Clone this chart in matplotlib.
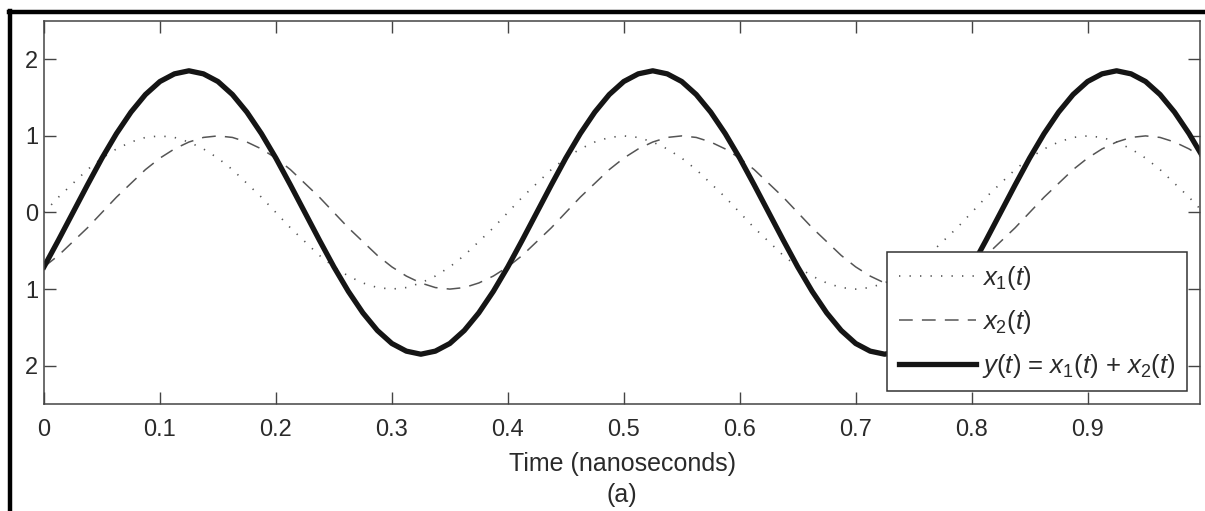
import numpy as np
import matplotlib
matplotlib.use("Agg")
import matplotlib.pyplot as plt
from matplotlib.lines import Line2D

plt.rcParams['font.family'] = ['Liberation Sans', 'DejaVu Sans']
plt.rcParams['mathtext.fontset'] = 'custom'
plt.rcParams['mathtext.rm'] = 'Liberation Sans'
plt.rcParams['mathtext.it'] = 'Liberation Sans:italic'

# sample times (ns), step 0.0125
time_ns = np.linspace(0.0, 1.0, 81)

x1_vals = [
    0.00, 0.20, 0.38, 0.56, 0.71, 0.83, 0.92, 0.98, 1.00, 0.98, 0.92, 0.83, 0.71, 0.56, 0.38, 0.20,
    0.00, -0.20, -0.38, -0.56, -0.71, -0.83, -0.92, -0.98, -1.00, -0.98, -0.92, -0.83, -0.71, -0.56, -0.38, -0.20,
    0.00, 0.20, 0.38, 0.56, 0.71, 0.83, 0.92, 0.98, 1.00, 0.98, 0.92, 0.83, 0.71, 0.56, 0.38, 0.20,
    0.00, -0.20, -0.38, -0.56, -0.71, -0.83, -0.92, -0.98, -1.00, -0.98, -0.92, -0.83, -0.71, -0.56, -0.38, -0.20,
    0.00, 0.20, 0.38, 0.56, 0.71, 0.83, 0.92, 0.98, 1.00, 0.98, 0.92, 0.83, 0.71, 0.56, 0.38, 0.20,
    0.00,
]

x2_vals = [
    -0.71, -0.56, -0.38, -0.20,
    0.00, 0.20, 0.38, 0.56, 0.71, 0.83, 0.92, 0.98, 1.00, 0.98, 0.92, 0.83, 0.71, 0.56, 0.38, 0.20,
    0.00, -0.20, -0.38, -0.56, -0.71, -0.83, -0.92, -0.98, -1.00, -0.98, -0.92, -0.83, -0.71, -0.56, -0.38, -0.20,
    0.00, 0.20, 0.38, 0.56, 0.71, 0.83, 0.92, 0.98, 1.00, 0.98, 0.92, 0.83, 0.71, 0.56, 0.38, 0.20,
    0.00, -0.20, -0.38, -0.56, -0.71, -0.83, -0.92, -0.98, -1.00, -0.98, -0.92, -0.83, -0.71, -0.56, -0.38, -0.20,
    0.00, 0.20, 0.38, 0.56, 0.71, 0.83, 0.92, 0.98, 1.00, 0.98, 0.92, 0.83, 0.71,
]

y_vals = [
    -0.71, -0.36,
    0.00, 0.36, 0.71, 1.03, 1.31, 1.54, 1.71, 1.81, 1.85, 1.81, 1.71, 1.54, 1.31, 1.03, 0.71, 0.36,
    0.00, -0.36, -0.71, -1.03, -1.31, -1.54, -1.71, -1.81, -1.85, -1.81, -1.71, -1.54, -1.31, -1.03, -0.71, -0.36,
    0.00, 0.36, 0.71, 1.03, 1.31, 1.54, 1.71, 1.81, 1.85, 1.81, 1.71, 1.54, 1.31, 1.03, 0.71, 0.36,
    0.00, -0.36, -0.71, -1.03, -1.31, -1.54, -1.71, -1.81, -1.85, -1.81, -1.71, -1.54, -1.31, -1.03, -0.71, -0.36,
    0.00, 0.36, 0.71, 1.03, 1.31, 1.54, 1.71, 1.81, 1.85, 1.81, 1.71, 1.54, 1.31, 1.03, 0.71,
]

xticks = [0, 0.1, 0.2, 0.3, 0.4, 0.5, 0.6, 0.7, 0.8, 0.9]
xtick_labels = ['0', '0.1', '0.2', '0.3', '0.4', '0.5', '0.6', '0.7', '0.8', '0.9']
yticks = [2, 1, 0, -1, -2]
ytick_labels = ['2', '1', '0', '1', '2']  # minus signs lost in the original scan

text_col = '#2a2a2a'

fig = plt.figure(figsize=(12.05, 5.11), dpi=100)
ax = fig.add_axes([0.0365, 0.2094, 0.9594, 0.7495])

ax.plot(time_ns, x1_vals, color='#555555', lw=1.2, ls=(0, (0.8, 5.5)), label='$x_1(t)$')
ax.plot(time_ns, x2_vals, color='#555555', lw=1.1, ls=(0, (9, 6)), label='$x_2(t)$')
ax.plot(time_ns, y_vals, color='#151515', lw=3.8, label='$y(t)$ = $x_1(t)$ + $x_2(t)$')

ax.set_xlim(0, 0.997)
ax.set_ylim(-2.5, 2.5)
ax.set_xticks(xticks)
ax.set_xticklabels(xtick_labels)
ax.set_yticks(yticks)
ax.set_yticklabels(ytick_labels)
ax.tick_params(direction='in', length=8.5, width=1, top=True, right=True,
               labelsize=17, colors='#444444', labelcolor=text_col)
ax.tick_params(axis='x', pad=11)
ax.tick_params(axis='y', pad=4)
for sp in ax.spines.values():
    sp.set_color('#444444')
    sp.set_linewidth(1.1)

ax.set_xlabel('Time (nanoseconds)\n(a)', fontsize=18, color=text_col, labelpad=8,
              linespacing=1.35)

leg = ax.legend(loc='lower right', fontsize=18.5, handlelength=3.0, handletextpad=0.25,
                fancybox=False, framealpha=1, edgecolor='#333333',
                borderaxespad=0.5, labelspacing=0.62, borderpad=0.45)
leg.get_frame().set_linewidth(1.1)
for t in leg.get_texts():
    t.set_color(text_col)

# heavy page border on top and left
fig.add_artist(Line2D([0.0075, 1.0], [0.9765, 0.9765], color='black', lw=3.2))
fig.add_artist(Line2D([0.0083, 0.0083], [0.0, 0.978], color='black', lw=3.2))

fig.savefig('out.png', dpi=100)
